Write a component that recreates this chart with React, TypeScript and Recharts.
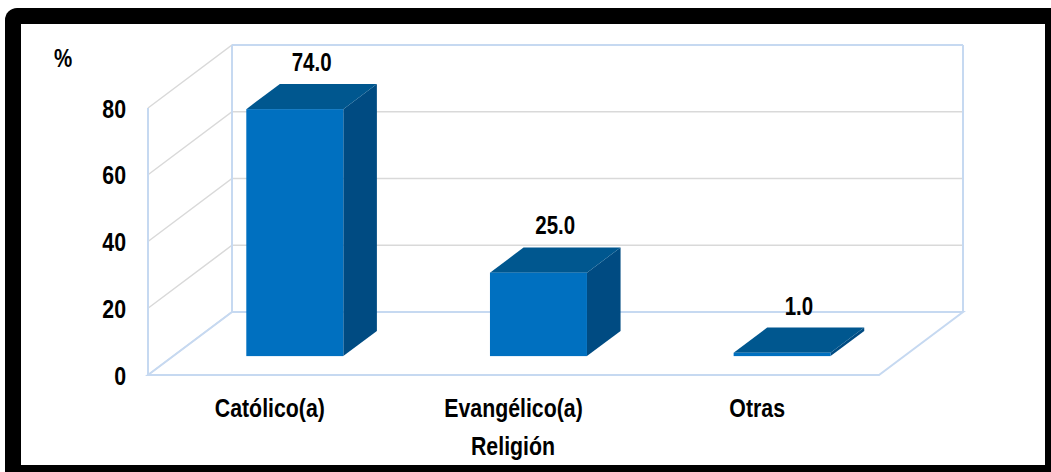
import { BarChart, Bar, XAxis, YAxis, CartesianGrid, ReferenceArea, LabelList } from "recharts";

const categories = ["Católico(a)", "Evangélico(a)", "Otras"];
const percentages = [74.0, 25.0, 1.0];
const yTicks = [0, 20, 40, 60, 80];

const data = categories.map((name, i) => ({ name, value: percentages[i] }));

// 3D depth offset of the chart box
const DX = 84;
const DY = -63;
const BAR_FRONT = 0.3;
const BAR_DEPTH = 0.4;

const FONT = '"Liberation Sans", Arial, sans-serif';
const BLUE_EDGE = "#c6d9f1";
const GRID = "#d9d9d9";

// bold text squeezed horizontally, like Arial Narrow
function NarrowText({ x, y, anchor = "middle", size = 26, children }: any) {
  return (
    <text
      transform={`translate(${x} ${y}) scale(0.82 1)`}
      textAnchor={anchor}
      fontFamily={FONT}
      fontWeight="bold"
      fontSize={size}
      fill="#000"
    >
      {children}
    </text>
  );
}

function Box(props: any) {
  const { x, y, width, height } = props;
  const fx = x + BAR_FRONT * DX;
  const fy = y + BAR_FRONT * DY;
  const dx = BAR_DEPTH * DX;
  const dy = BAR_DEPTH * DY;
  const w = width;
  const h = Math.max(height, 0);
  return (
    <g>
      <polygon
        points={`${fx + w},${fy} ${fx + w + dx},${fy + dy} ${fx + w + dx},${fy + h + dy} ${fx + w},${fy + h}`}
        fill="#004b82"
      />
      <polygon
        points={`${fx},${fy} ${fx + dx},${fy + dy} ${fx + w + dx},${fy + dy} ${fx + w},${fy}`}
        fill="#00578f"
      />
      <rect x={fx} y={fy} width={w} height={h} fill="#0070c0" />
    </g>
  );
}

function ValueLabel(props: any) {
  const { x, y, width, value } = props;
  const cx = x + BAR_FRONT * DX + width / 2 + (BAR_DEPTH * DX) / 2;
  const top = y + BAR_FRONT * DY + BAR_DEPTH * DY;
  return (
    <NarrowText x={cx} y={top - 13} size={25}>
      {Number(value).toFixed(1)}
    </NarrowText>
  );
}

function XTick(props: any) {
  const { x, y, payload } = props;
  return <NarrowText x={x} y={y + 17}>{payload.value}</NarrowText>;
}

function YTick(props: any) {
  const { x, y, payload } = props;
  return (
    <NarrowText x={x} y={y + 9.5} anchor="end">
      {payload.value}
    </NarrowText>
  );
}

function GridLine(props: any) {
  const { x1, y1, x2 } = props;
  return (
    <path
      key={props.key ?? `g-${y1}`}
      d={`M${x1},${y1} L${x1 + DX},${y1 + DY} L${x2 + DX},${y1 + DY}`}
      stroke={GRID}
      strokeWidth={1.5}
      fill="none"
    />
  );
}

function Walls(props: any) {
  const { x, y, width, height } = props;
  const bottom = y + height;
  const right = x + width;
  return (
    <g stroke={BLUE_EDGE} strokeWidth={2} fill="none">
      <line x1={x} y1={bottom} x2={x} y2={y} />
      <line x1={x + DX} y1={bottom + DY} x2={x + DX} y2={y + DY} />
      <line x1={right + DX} y1={bottom + DY} x2={right + DX} y2={y + DY} />
      <line x1={x + DX} y1={y + DY} x2={right + DX} y2={y + DY} />
      <path d={`M${x},${bottom} L${right},${bottom} L${right + DX},${bottom + DY} L${x + DX},${bottom + DY} Z`} />
    </g>
  );
}

export default function App() {
  return (
    <div style={{ position: "absolute", left: 0, top: 0, width: 1051, height: 472, background: "#fff", overflow: "hidden" }}>
      <div
        style={{
          position: "absolute",
          left: 5,
          top: 8,
          width: 1060,
          height: 480,
          background: "#000",
          borderTopLeftRadius: 12,
        }}
      />
      <div style={{ position: "absolute", left: 21, top: 24, width: 1024, height: 441, background: "#fff" }} />
      <div style={{ position: "absolute", left: 0, top: 0 }}>
        <BarChart
          width={1051}
          height={472}
          data={data}
          margin={{ top: 108, right: 172, bottom: 37, left: 88 }}
          barCategoryGap="30%"
        >
          <CartesianGrid vertical={false} horizontal={GridLine} />
          <ReferenceArea y1={0} y2={80} shape={Walls} ifOverflow="visible" />
          <XAxis dataKey="name" axisLine={false} tickLine={false} height={60} tickMargin={19} tick={XTick} />
          <YAxis
            domain={[0, 80]}
            ticks={yTicks}
            width={60}
            axisLine={false}
            tickLine={false}
            tickMargin={16}
            tick={YTick}
          />
          <Bar dataKey="value" shape={Box} isAnimationActive={false}>
            <LabelList dataKey="value" content={ValueLabel} />
          </Bar>
        </BarChart>
      </div>
      <svg style={{ position: "absolute", left: 0, top: 0 }} width={1051} height={472}>
        <NarrowText x={63} y={67} size={25}>
          %
        </NarrowText>
        <NarrowText x={513} y={455}>
          Religión
        </NarrowText>
      </svg>
    </div>
  );
}
